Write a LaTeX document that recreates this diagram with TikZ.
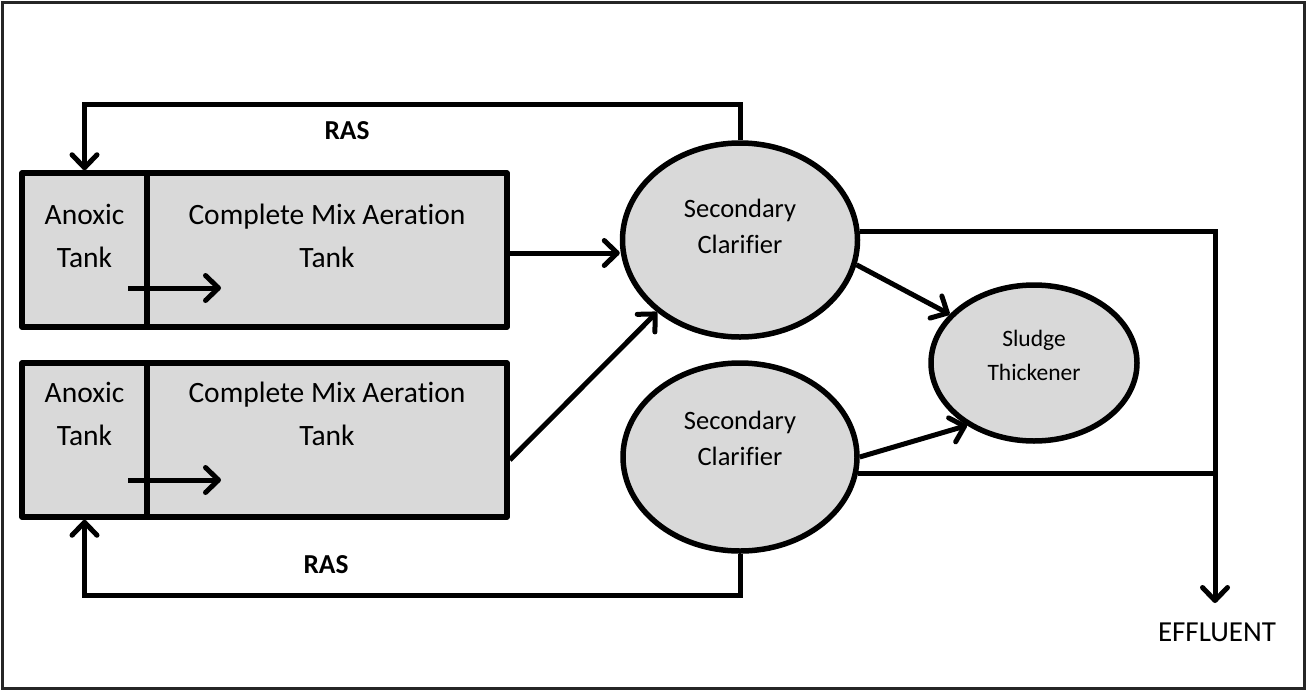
\documentclass[tikz,border=0pt]{standalone}
\usepackage{fontspec}
\setmainfont{Carlito}[Ligatures={NoCommon}]
\usetikzlibrary{arrows.meta,shapes.geometric}
\definecolor{tankfill}{HTML}{D9D9D9}
\begin{document}
\begin{tikzpicture}[x=1pt,y=-1pt,
  box/.style={draw=black, fill=tankfill, line width=5.5pt, inner sep=0pt, minimum height=154pt, line join=round},
  vessel/.style={ellipse, draw=black, fill=tankfill, line width=5.5pt, inner sep=0pt},
  flow/.style={line width=5pt, -{Straight Barb[length=13pt,width=25pt,line width=5pt,round]}},
  pipe/.style={line width=5pt},
  bigtxt/.style={align=center, inner sep=0pt, font=\fontsize{29.5pt}{42.5pt}\selectfont},
  midtxt/.style={align=center, inner sep=0pt, font=\fontsize{26.5pt}{36pt}\selectfont},
  smalltxt/.style={align=center, inner sep=0pt, font=\fontsize{23.5pt}{34pt}\selectfont},
  raslabel/.style={inner sep=0pt, font=\bfseries\fontsize{27.4pt}{30pt}\selectfont},
]
\useasboundingbox (0,0) rectangle (1307,691);
\draw[line width=3pt, draw=black!85] (2.5,2.5) rectangle (1304.5,688.5);

% tanks
\node[box, minimum width=360pt] (ae1) at (327,250) {};
\node[box, minimum width=125pt] (an1) at (84.5,250) {};
\node[box, minimum width=360pt] (ae2) at (327,440) {};
\node[box, minimum width=125pt] (an2) at (84.5,440) {};

\node[bigtxt] (an1t) at (84.5,236) {Anoxic\\Tank};
\node[bigtxt] (ae1t) at (327,236) {Complete Mix Aeration\\Tank};
\node[bigtxt] (an2t) at (84.5,414) {Anoxic\\Tank};
\node[bigtxt] (ae2t) at (327,414) {Complete Mix Aeration\\Tank};

% vessels
\node[vessel, minimum width=235pt, minimum height=194pt] (c1) at (740,240) {};
\node[vessel, minimum width=234pt, minimum height=188pt] (c2) at (740,457) {};
\node[vessel, minimum width=206pt, minimum height=156pt] (th) at (1034,363) {};
\node[midtxt] (c1t) at (740,226) {Secondary\\Clarifier};
\node[midtxt] (c2t) at (740,438.5) {Secondary\\Clarifier};
\node[smalltxt] (tht) at (1034,355) {Sludge\\Thickener};

% internal arrows
\coordinate (i1s) at (128,288);
\coordinate (i1e) at (221,288);
\coordinate (i2s) at (128,480);
\coordinate (i2e) at (221,480);
\draw[flow] (i1s) -- (i1e);
\draw[flow] (i2s) -- (i2e);

% tanks to clarifier
\coordinate (a1o) at ([yshift=-3pt]ae1.east);
\coordinate (a2o) at ([yshift=-20pt]ae2.east);
\draw[flow] (a1o) -- (c1.west |- a1o);
\draw[flow] (a2o) -- (c1.221);

% RAS returns
\coordinate (r1) at ([yshift=66pt]an1.north);
\coordinate (r2) at ([yshift=-76pt]an2.south);
\draw[flow] (c1.north) |- (r1) -- (an1.north);
\draw[flow] (c2.south) |- (r2) -- (an2.south);
\node[raslabel] (ras1) at (347,131) {RAS};
\node[raslabel] (ras2) at (326,565) {RAS};

% sludge
\draw[flow] (c1.-12) -- (th.150);
\draw[flow] (c2.east) -- (th.223);

% effluent
\coordinate (eff) at (1215,603);
\draw[flow] (c1.4) -| (eff);
\draw[pipe] (c2.-8) -- (c2.-8 -| eff);
\node[inner sep=0pt, font=\fontsize{29pt}{32pt}\selectfont] (efft) at (1217,632) {EFFLUENT};
\end{tikzpicture}
\end{document}
